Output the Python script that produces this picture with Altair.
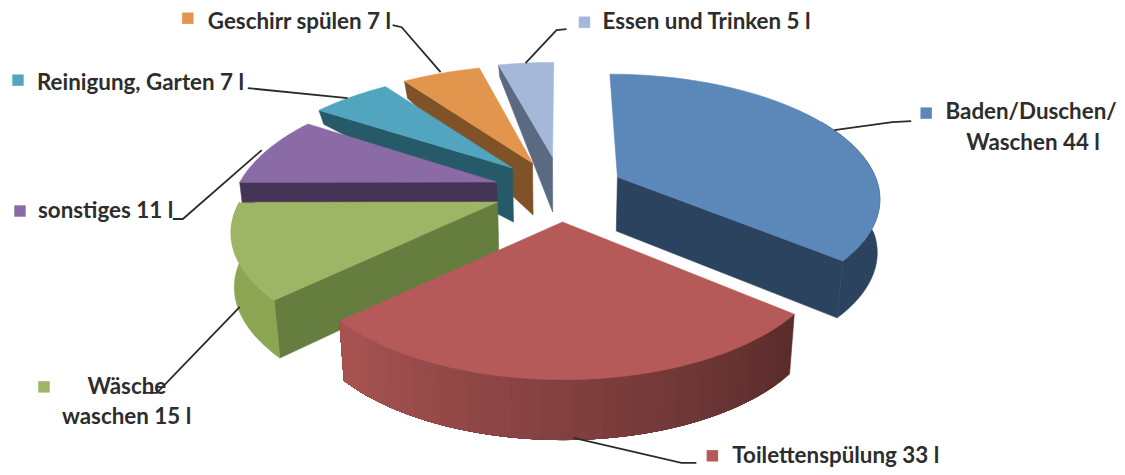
import math
import altair as alt
import pandas as pd

names = ["Baden/Duschen/Waschen", "Toilettenspülung", "Wäsche waschen", "sonstiges",
         "Reinigung, Garten", "Geschirr spülen", "Essen und Trinken"]
litres = [44, 33, 15, 11, 7, 7, 5]
top_colors = ["#5b87b9", "#b55a58", "#9db564", "#8a6ba5", "#52a5be", "#e2954c", "#a5b8d9"]
side_colors = ["#2b435f", "#7a3c3c", "#667d40", "#433355", "#265a68", "#7f5327", "#5b6a80"]

# screen-fit of the tilted, exploded pie
apex = [(618, 177), (563, 222), (498, 202), (497, 182), (513, 168), (533, 163), (553, 157)]
kx = [0.96, 0.97, 0.96, 0.955, 0.98, 0.98, 0.97]
ky = [1.0, 1.0, 0.90, 0.97, 0.95, 0.95, 0.92]
persp = [0.15, 0.21, 0.25, 0.21, 0.21, 0.21, 0.21]
rot = [0, 0, -1.6, -1.6, -1, -0.5, 0]
lean_on = [1, 1, 0, 1, 1, 1, 1]
corner_drop = [57, 60, 58, 54, 14, 17, 12]
apex_drop = [54, 60, 54, 54, 54, 52, 55]
RX, RY0, VX, LEAN = 269, 103, 560, 0.02

label_lines = [("Baden/Duschen/", 1032, 112, "center"), ("Waschen 44 l", 1034, 143, "center"),
               ("Toilettenspülung 33 l", 733, 456, "left"), ("Wäsche", 127, 387, "center"),
               ("waschen 15 l", 62, 417, "left"), ("sonstiges 11 l", 38, 211, "left"),
               ("Reinigung, Garten 7 l", 37, 83, "left"), ("Geschirr spülen 7 l", 208, 22, "left"),
               ("Essen und Trinken 5 l", 603, 22, "left")]
squares = [(927, 113), (713, 456), (44, 387), (20, 211), (18, 80), (188, 18), (585, 22)]
leaders = [[(835, 130), (893, 122), (912, 121)], [(574, 438), (682, 463), (697, 463)],
           [(143, 393), (157, 393), (240, 307)], [(173, 219), (183, 219), (262, 150)],
           [(248, 88), (348, 98)], [(393, 25), (402, 27), (441, 72)], [(567, 29), (557, 30), (526, 63)]]

total = sum(litres)
starts = [sum(litres[:i]) / total * 360 for i in range(len(litres))]
ends = [sum(litres[:i + 1]) / total * 360 for i in range(len(litres))]


def pt(i, deg):
    a = math.radians(deg + rot[i])
    X, Y = math.sin(a), -math.cos(a)
    p = persp[i]
    s = 1 / (1 - p * Y)
    ax, ay = apex[i]
    return (ax + RX * kx[i] * X * s + lean_on[i] * (ax - VX) * (s - 1), ay + RY0 * (1 + p) * ky[i] * Y * s)


def low(x, y, drop, taper=1.0):
    return (x - (x - VX) * LEAN * taper, y + drop)


def lerp(c1, c2, t):
    a = [int(c1[j:j + 2], 16) for j in (1, 3, 5)]
    b = [int(c2[j:j + 2], 16) for j in (1, 3, 5)]
    return "#" + "".join(f"{round(u + (v - u) * t):02x}" for u, v in zip(a, b))


rows = []
pid = [0]


def poly(points, color):
    pid[0] += 1
    closed = list(points) + [points[0]]
    for k, (x, y) in enumerate(closed):
        rows.append({"x": x, "y": y, "k": k, "poly": pid[0], "col": color})


def arc(i, a0, a1, n=40):
    return [pt(i, a0 + (a1 - a0) * j / n) for j in range(n + 1)]


def rim(i, a0, a1, color):
    n = 40
    angles = [a0 + (a1 - a0) * j / n for j in range(n + 1)]
    top = [pt(i, u) for u in angles]
    bottom = []
    for u, (x, y) in zip(angles, top):
        Yg = abs(math.cos(math.radians(u + rot[i])))
        taper = min(1.0, 0.2 + Yg / 0.64 * 0.8)
        bottom.append(low(x, y, corner_drop[i], taper))
    poly(top + bottom[::-1], color)


for i in [6, 5, 4, 3, 2, 0, 1]:
    edge = ends[i] if i == 0 else starts[i]
    cx, cy = pt(i, edge)
    ax, ay = apex[i]
    if i != 1:
        poly([(cx, cy), (ax, ay), low(ax, ay, apex_drop[i]), low(cx, cy, corner_drop[i])], side_colors[i])
    if i == 0:
        rim(i, 60, ends[0], side_colors[0])
    elif i == 2:
        rim(i, starts[2], ends[2], "#8ba553")
    elif i == 1:
        steps = 36
        for j in range(steps):
            # painter's order: each step covers everything still to come, so no seams show
            u = starts[1] + (ends[1] - starts[1]) * j / steps
            rim(i, u, ends[1], lerp("#5a2c2c", "#a85352", j / (steps - 1)))
    poly([(ax, ay)] + arc(i, starts[i], ends[i]), top_colors[i])

df = pd.DataFrame(rows)
X = alt.X("x:Q", scale=alt.Scale(domain=[8, 1117]), axis=None)
Y = alt.Y("y:Q", scale=alt.Scale(domain=[467, 8]), axis=None)

pie = alt.Chart(df).mark_line(strokeWidth=0.6, interpolate="linear", opacity=1, fillOpacity=1, strokeOpacity=1).encode(
    x=X, y=Y, order="k:Q", detail="poly:N",
    fill=alt.Fill("col:N", scale=None), stroke=alt.Stroke("col:N", scale=None))

lead_df = pd.DataFrame([{"x": x, "y": y, "k": k, "l": n} for n, line in enumerate(leaders) for k, (x, y) in enumerate(line)])
lead = alt.Chart(lead_df).mark_line(color="#2b2b2b", strokeWidth=1.8).encode(x=X, y=Y, order="k:Q", detail="l:N")

sq_df = pd.DataFrame({"x": [s[0] for s in squares], "y": [s[1] for s in squares], "col": top_colors})
sq = alt.Chart(sq_df).mark_square(size=130, opacity=1).encode(x=X, y=Y, color=alt.Color("col:N", scale=None))

text_layers = []
for al in ("left", "center"):
    tdf = pd.DataFrame([{"t": t, "x": x, "y": y} for t, x, y, a in label_lines if a == al])
    text_layers.append(alt.Chart(tdf).mark_text(font="Lato", fontSize=22.4, fontWeight=700, color="#2d2d2d",
                                                align=al, baseline="middle").encode(x=X, y=Y, text="t:N"))

chart = alt.layer(pie, lead, sq, *text_layers).properties(width=1109, height=459, padding=0).configure_view(stroke=None)
chart.save("out.html", embed_options={"renderer": "svg", "actions": False})
